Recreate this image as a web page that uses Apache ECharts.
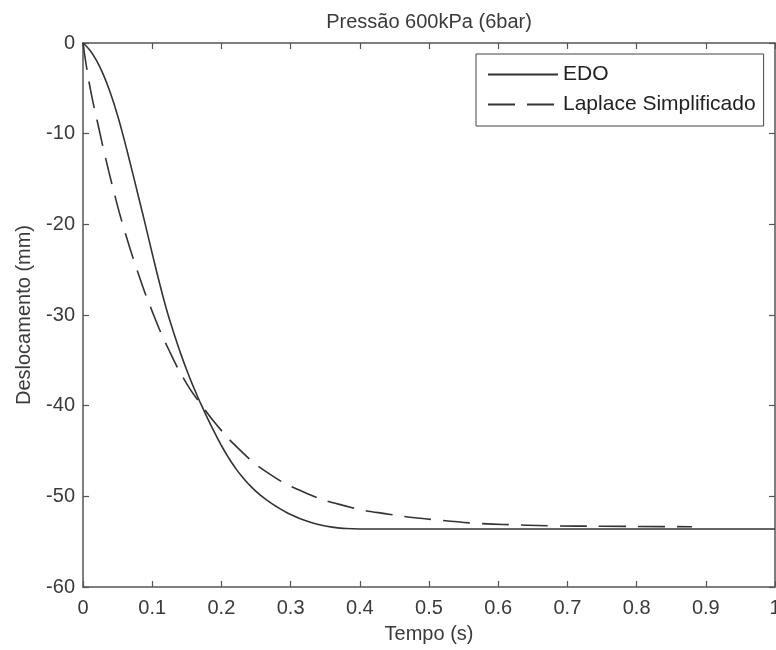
<!DOCTYPE html>
<html>
<head>
<meta charset="utf-8">
<script src="https://cdn.jsdelivr.net/npm/echarts@6/dist/echarts.min.js"></script>
<style>html,body{margin:0;padding:0;background:#fff}#c{width:776px;height:650px}</style>
</head>
<body>
<div id="c"></div>
<script>
const titleText = 'Pressão 600kPa (6bar)';
const xName = 'Tempo (s)';
const yName = 'Deslocamento (mm)';
const seriesNames = ['EDO', 'Laplace Simplificado'];

const edoT = [0, 0.01, 0.02, 0.03, 0.04, 0.05, 0.06, 0.07, 0.08, 0.09, 0.10, 0.11, 0.12, 0.13, 0.14, 0.15, 0.16, 0.17, 0.18, 0.19, 0.20, 0.21, 0.22, 0.23, 0.24, 0.25, 0.26, 0.27, 0.28, 0.29, 0.30, 0.32, 0.34, 0.36, 0.38, 0.40, 0.50, 0.70, 1.00];
const edoY = [0, -0.8, -2.0, -3.6, -5.6, -8.0, -10.8, -13.8, -16.9, -20.0, -23.2, -26.3, -29.2, -31.7, -34.0, -36.1, -38.0, -39.75, -41.4, -42.95, -44.4, -45.7, -46.85, -47.85, -48.7, -49.45, -50.1, -50.65, -51.15, -51.6, -52.0, -52.65, -53.1, -53.4, -53.55, -53.6, -53.6, -53.6, -53.6];

const lapT = [0, 0.005, 0.0125, 0.022, 0.032, 0.044, 0.057, 0.078, 0.1, 0.125, 0.15, 0.169, 0.193, 0.227, 0.265, 0.318, 0.376, 0.444, 0.511, 0.574, 0.627, 0.675, 0.75, 0.88];
const lapY = [0, -2.6, -5.8, -9.1, -12.5, -16.2, -19.9, -25.0, -29.6, -34.0, -37.6, -39.7, -42.1, -44.9, -47.3, -49.5, -51.0, -52.0, -52.6, -53.0, -53.15, -53.25, -53.3, -53.35];

const font = 'Liberation Sans, Arial, sans-serif';
const axisCol = '#555';
const lineCol = '#333';
const textCol = '#3a3a3a';

const zip = (a, b) => a.map((v, i) => [v, b[i]]);

const chart = echarts.init(document.getElementById('c'));
chart.setOption({
  animation: false,
  backgroundColor: '#fff',
  title: {
    text: titleText, left: 424, top: 7, textAlign: 'center',
    textStyle: { fontFamily: font, fontSize: 20, fontWeight: 'normal', color: textCol }
  },
  legend: {
    orient: 'vertical', left: 476, top: 54,
    padding: [10, 8, 11, 11], itemGap: 9,
    itemWidth: 70, itemHeight: 14,
    borderColor: '#444', borderWidth: 1, backgroundColor: '#fff',
    itemStyle: { opacity: 0 },
    textStyle: { fontFamily: font, fontSize: 21, color: '#222' },
    data: seriesNames
  },
  grid: { left: 83, right: 1, top: 43, bottom: 63, containLabel: false, outerBoundsMode: 'none' },
  xAxis: [{
    type: 'value', min: 0, max: 1, interval: 0.1,
    name: xName, nameLocation: 'middle', nameGap: 37,
    nameTextStyle: { fontFamily: font, fontSize: 20, color: textCol },
    axisLine: { show: true, onZero: false, lineStyle: { color: axisCol, width: 1.5 } },
    axisTick: { show: true, inside: true, length: 6, lineStyle: { color: axisCol, width: 1.2 } },
    axisLabel: { fontFamily: font, fontSize: 20, color: textCol, margin: 11,
      formatter: v => (Math.round(v * 10) / 10).toString() },
    splitLine: { show: false }
  }, {
    type: 'value', min: 0, max: 1, interval: 0.1, position: 'top',
    axisLine: { show: true, onZero: false, lineStyle: { color: axisCol, width: 1.5 } },
    axisTick: { show: true, inside: true, length: 6, lineStyle: { color: axisCol, width: 1.2 } },
    axisLabel: { show: false }, splitLine: { show: false }
  }],
  yAxis: [{
    type: 'value', min: -60, max: 0, interval: 10,
    name: yName, nameLocation: 'middle', nameGap: 49, nameRotate: 90,
    nameTextStyle: { fontFamily: font, fontSize: 20, color: textCol },
    axisLine: { show: true, onZero: false, lineStyle: { color: axisCol, width: 1.5 } },
    axisTick: { show: true, inside: true, length: 6, lineStyle: { color: axisCol, width: 1.2 } },
    axisLabel: { fontFamily: font, fontSize: 20, color: textCol, margin: 8 },
    splitLine: { show: false }
  }, {
    type: 'value', min: -60, max: 0, interval: 10, position: 'right',
    axisLine: { show: true, onZero: false, lineStyle: { color: axisCol, width: 1.5 } },
    axisTick: { show: true, inside: true, length: 6, lineStyle: { color: axisCol, width: 1.2 } },
    axisLabel: { show: false }, splitLine: { show: false }
  }],
  series: [{
    name: seriesNames[0], type: 'line', smooth: 0.5, symbol: 'none',
    data: zip(edoT, edoY),
    lineStyle: { color: lineCol, width: 1.6, type: 'solid' },
    itemStyle: { color: lineCol }
  }, {
    name: seriesNames[1], type: 'line', smooth: 0.5, symbol: 'none',
    data: zip(lapT, lapY),
    lineStyle: { color: lineCol, width: 1.6, type: [27, 12] },
    itemStyle: { color: lineCol }
  }]
});
</script>
</body>
</html>
